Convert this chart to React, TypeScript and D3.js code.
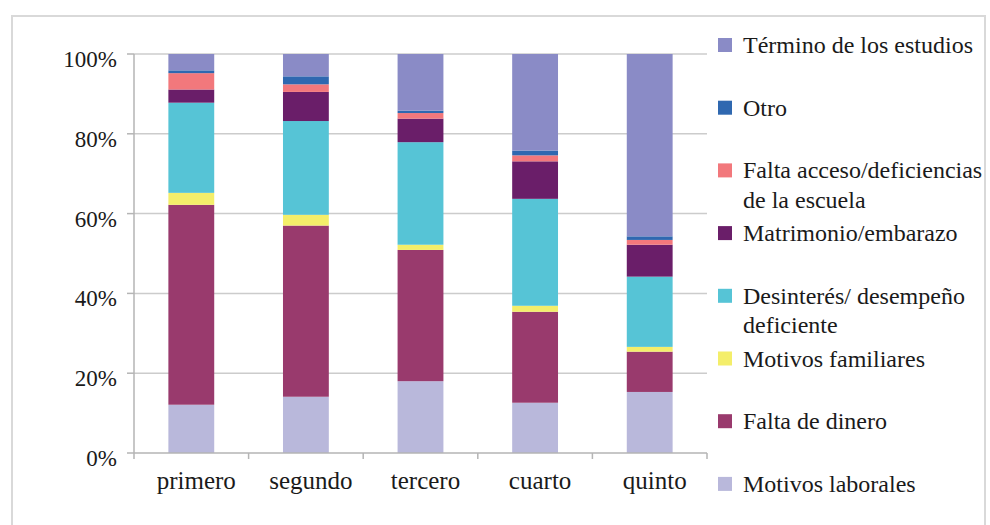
import React from "react";
import * as d3 from "d3";

const categories = ["primero", "segundo", "tercero", "cuarto", "quinto"];
const seriesNames = [
  "Motivos laborales",
  "Falta de dinero",
  "Motivos familiares",
  "Desinterés/ desempeño deficiente",
  "Matrimonio/embarazo",
  "Falta acceso/deficiencias de la escuela",
  "Otro",
  "Término de los estudios",
];
const motivosLaborales = [12.1, 14.1, 18.0, 12.6, 15.3];
const faltaDinero = [50.1, 42.9, 32.9, 22.8, 10.1];
const motivosFamiliares = [3.0, 2.7, 1.3, 1.5, 1.2];
const desinteres = [22.6, 23.5, 25.7, 26.8, 17.6];
const matrimonio = [3.3, 7.3, 5.9, 9.4, 8.0];
const faltaAcceso = [4.1, 1.9, 1.4, 1.5, 1.2];
const otro = [0.7, 2.0, 0.6, 1.2, 0.9];
const terminoEstudios = [4.1, 5.6, 14.2, 24.2, 45.7];
const seriesValues = [
  motivosLaborales,
  faltaDinero,
  motivosFamiliares,
  desinteres,
  matrimonio,
  faltaAcceso,
  otro,
  terminoEstudios,
];
const colors = [
  "#b9b8db",
  "#993a6d",
  "#f4ee6a",
  "#56c4d6",
  "#6a1e69",
  "#f2787c",
  "#2f68b0",
  "#8a8bc6",
];
const legendLines = [
  ["Término de los estudios"],
  ["Otro"],
  ["Falta acceso/deficiencias", "de la escuela"],
  ["Matrimonio/embarazo"],
  ["Desinterés/ desempeño", "deficiente"],
  ["Motivos familiares"],
  ["Falta de dinero"],
  ["Motivos laborales"],
];
const legendColors = [
  "#8a8bc6",
  "#2f68b0",
  "#f2787c",
  "#6a1e69",
  "#56c4d6",
  "#f4ee6a",
  "#993a6d",
  "#b9b8db",
];
const yTicks = [0, 20, 40, 60, 80, 100];

const FONT = '"Times New Roman", Times, Tinos, serif';

export default function App() {
  const x = d3.scaleBand<string>().domain(categories).range([134, 707]).paddingInner(0.6).paddingOuter(0.3);
  const y = d3.scaleLinear().domain([0, 100]).range([453, 54]);

  const table = categories.map((c, i) => {
    const row: any = { cat: c };
    seriesNames.forEach((s, j) => (row[s] = seriesValues[j][i]));
    return row;
  });
  const stacked = d3.stack<any>().keys(seriesNames)(table);

  const step = x.step();
  const bounds = categories.map((_, i) => 134 + step * i);
  bounds.push(707);

  const ts = { fontFamily: FONT };

  return (
    <svg
      width={990}
      height={525}
      style={{ position: "absolute", left: 0, top: 0, background: "#fff", fontFamily: FONT }}
    >
      <rect x={12} y={16} width={973} height={540} fill="#fff" stroke="#d9d9d9" strokeWidth={2} />
      {yTicks.map((t) => (
        <g key={t}>
          {t > 0 && <line x1={134} x2={707} y1={y(t)} y2={y(t)} stroke="#cccccc" strokeWidth={1.5} />}
          <line x1={127} x2={134} y1={y(t)} y2={y(t)} stroke="#b5b5b5" strokeWidth={1.5} />
          <text x={117} y={y(t) + 13} textAnchor="end" fontSize={23} fill="#1a1a1a" style={ts}>
            {t}%
          </text>
        </g>
      ))}
      {stacked.map((layer, j) => (
        <g key={layer.key} fill={colors[j]}>
          {layer.map((d, i) => (
            <rect
              key={i}
              x={x(categories[i])}
              width={x.bandwidth()}
              y={y(d[1])}
              height={y(d[0]) - y(d[1])}
            />
          ))}
        </g>
      ))}
      <line x1={134} x2={134} y1={y(100)} y2={y(0)} stroke="#b5b5b5" strokeWidth={1.5} />
      <line x1={134} x2={707} y1={y(0)} y2={y(0)} stroke="#b5b5b5" strokeWidth={1.5} />
      {bounds.map((b, i) => (
        <line key={i} x1={b} x2={b} y1={y(0)} y2={y(0) + 6} stroke="#b5b5b5" strokeWidth={1.5} />
      ))}
      {categories.map((c) => (
        <text
          key={c}
          x={(x(c) as number) + x.bandwidth() / 2 + 5}
          y={489}
          textAnchor="middle"
          fontSize={25}
          fill="#1a1a1a"
          style={ts}
        >
          {c}
        </text>
      ))}
      {legendLines.map((lines, i) => {
        const y0 = 38 + i * 62.7;
        return (
          <g key={i}>
            <rect x={718} y={y0} width={14} height={14} fill={legendColors[i]} />
            {lines.map((ln, k) => (
              <text key={k} x={743} y={y0 + 15 + k * 29.5} fontSize={24} fill="#1a1a1a" style={ts}>
                {ln}
              </text>
            ))}
          </g>
        );
      })}
    </svg>
  );
}
